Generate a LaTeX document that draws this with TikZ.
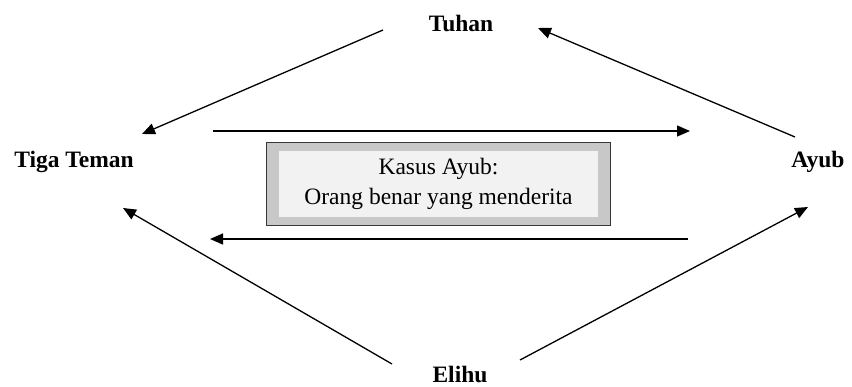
\documentclass[tikz,border=0pt]{standalone}
\usepackage{fontspec}
\setmainfont{Liberation Serif}
\usetikzlibrary{
  arrows.meta,
  positioning,
  fit,
  backgrounds
}
\definecolor{FrameGray}{RGB}{200,200,200}
\definecolor{InnerGray}{RGB}{242,242,242}
\definecolor{EdgeGray}{RGB}{55,55,55}
\tikzset{
  person/.style={font=\fontsize{23.5}{28}\selectfont\bfseries,inner sep=0pt,anchor=base},
  casebox/.style={fill=InnerGray,minimum width=319pt,minimum height=66pt,align=center,inner sep=0pt,font=\fontsize{23.5}{30}\selectfont},
  caseframe/.style={draw=EdgeGray,fill=FrameGray,line width=0.8pt,inner xsep=12pt,inner ysep=8pt},
  speech/.style={-{Triangle[length=13pt,width=11pt]},line width=1.3pt}
}
\begin{document}
\begin{tikzpicture}[x=1pt,y=-1pt]
\useasboundingbox (0,0) rectangle (852,386);

\node[person] (tuhan) at (461,31) {Tuhan};
\node[person] (teman) at (74,167) {Tiga Teman};
\node[person] (ayub) at (818,167) {Ayub};
\node[person] (elihu) at (460,382) {Elihu};

\node[casebox] (kasus) at (438.5,184) {Kasus Ayub:\\Orang benar yang menderita};
\begin{scope}[on background layer]
\node[caseframe, fit=(kasus)] (frame) {};
\end{scope}

% ends of the connectors
\coordinate (tuhan-l) at (383,30);
\coordinate (tuhan-r) at (538,28);
\coordinate (teman-t) at (142,134);
\coordinate (teman-b) at (123,208);
\coordinate (ayub-t) at (795,137);
\coordinate (ayub-b) at (808,207);
\coordinate (elihu-l) at (392,364);
\coordinate (elihu-r) at (520,360);
\coordinate (top-l) at (213,131);
\coordinate (top-r) at (690,131);
\coordinate (bot-l) at (210,239);
\coordinate (bot-r) at (688,239);

\draw[speech] (tuhan-l) -- (teman-t);
\draw[speech] (ayub-t) -- (tuhan-r);
\draw[speech] (top-l) -- (top-r);
\draw[speech] (bot-r) -- (bot-l);
\draw[speech] (elihu-l) -- (teman-b);
\draw[speech] (elihu-r) -- (ayub-b);
\end{tikzpicture}
\end{document}
